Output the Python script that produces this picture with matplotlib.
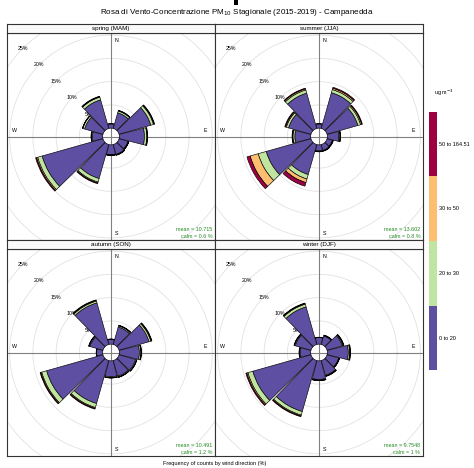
import numpy as np
import matplotlib.pyplot as plt
from matplotlib.patches import Wedge, Rectangle

plt.rcParams['font.family'] = ['Liberation Sans', 'DejaVu Sans']

# wind sectors (degrees from north) and concentration bins
directions = np.arange(0, 360, 30)
seasons = ['spring (MAM)', 'summer (JJA)', 'autumn (SON)', 'winter (DJF)']
bin_labels = ['0 to 20', '20 to 30', '30 to 50', '50 to 164.51']
colours = ['#5E4FA2', '#BFE5A0', '#FDBF6F', '#9E0142']

# frequency of counts (%) per sector, one list per concentration bin
spring_0_20 = [0.9, 3.5, 7.1, 5.4, 2.0, 2.2, 2.1, 7.6, 13.6, 2.2, 4.1, 6.4]
spring_20_30 = [0.1, 0.4, 0.6, 0.5, 0.1, 0.1, 0.1, 0.8, 1.0, 0.2, 0.4, 0.6]
spring_30_50 = [0.0, 0.1, 0.15, 0.1, 0.05, 0.05, 0.05, 0.2, 0.25, 0.05, 0.05, 0.1]
spring_50_max = [0.0, 0.05, 0.1, 0.1, 0.05, 0.05, 0.05, 0.15, 0.2, 0.05, 0.05, 0.1]

summer_0_20 = [0.9, 8.0, 6.9, 2.5, 1.2, 1.3, 1.3, 6.7, 10.0, 3.4, 5.0, 7.9]
summer_20_30 = [0.1, 0.7, 0.6, 0.2, 0.1, 0.1, 0.1, 1.0, 1.8, 0.4, 0.5, 0.7]
summer_30_50 = [0.0, 0.3, 0.25, 0.1, 0.05, 0.05, 0.05, 0.8, 1.8, 0.1, 0.2, 0.25]
summer_50_max = [0.0, 0.2, 0.15, 0.05, 0.05, 0.05, 0.05, 0.8, 0.7, 0.1, 0.15, 0.15]

autumn_0_20 = [1.0, 3.9, 6.7, 4.3, 3.7, 3.5, 3.4, 9.6, 12.6, 1.3, 2.9, 9.3]
autumn_20_30 = [0.05, 0.25, 0.4, 0.3, 0.2, 0.2, 0.2, 0.9, 1.1, 0.05, 0.2, 0.4]
autumn_30_50 = [0.02, 0.1, 0.15, 0.1, 0.05, 0.05, 0.05, 0.2, 0.2, 0.02, 0.05, 0.15]
autumn_50_max = [0.02, 0.05, 0.1, 0.05, 0.05, 0.05, 0.05, 0.15, 0.15, 0.02, 0.05, 0.1]

winter_0_20 = [1.4, 1.9, 3.4, 4.5, 2.6, 3.3, 4.0, 11.4, 13.0, 2.3, 3.5, 8.4]
winter_20_30 = [0.05, 0.1, 0.2, 0.3, 0.1, 0.15, 0.15, 0.8, 1.1, 0.1, 0.2, 0.6]
winter_30_50 = [0.02, 0.05, 0.1, 0.1, 0.05, 0.05, 0.05, 0.2, 0.25, 0.05, 0.05, 0.15]
winter_50_max = [0.02, 0.05, 0.1, 0.1, 0.05, 0.05, 0.05, 0.15, 0.2, 0.05, 0.05, 0.1]

means = ['10.715', '13.602', '10.491', '9.7548']
calms = ['0.6', '0.8', '1.2', '1']
grid_pct = [5, 10, 15, 20, 25, 30]

season_data = [
    [spring_0_20, spring_20_30, spring_30_50, spring_50_max],
    [summer_0_20, summer_20_30, summer_30_50, summer_50_max],
    [autumn_0_20, autumn_20_30, autumn_30_50, autumn_50_max],
    [winter_0_20, winter_20_30, winter_30_50, winter_50_max],
]

W, H = 474, 468
fig = plt.figure(figsize=(W / 100, H / 100), dpi=100)


def fig_rect(x, y, w, h):
    # pixel box (top-left origin) -> figure fraction
    return [x / W, 1 - (y + h) / H, w / W, h / H]


off = 1.8      # size of the central hole, in %
scale = 4.65   # pixels per %
half_w = 14.2  # half width of each sector wedge

panels = [(7, 33), (215, 33), (7, 249), (215, 249)]
pw, ph, sh = 208, 207, 9

for k, (px, py) in enumerate(panels):
    ax = fig.add_axes(fig_rect(px, py, pw, ph))
    ax.set_xlim(-pw / 2 / scale, pw / 2 / scale)
    ax.set_ylim(-ph / 2 / scale, ph / 2 / scale)
    ax.set_xticks([])
    ax.set_yticks([])
    for s in ax.spines.values():
        s.set_linewidth(0.8)
        s.set_color('#333333')

    # grid circles and axis cross
    t = np.linspace(0, 2 * np.pi, 361)
    for g in [0] + grid_pct:
        r = g + off
        ax.plot(r * np.cos(t), r * np.sin(t), color='#e2e2e2', lw=0.6, zorder=1)
    ax.axhline(0, color='#808080', lw=0.8, zorder=1)
    ax.axvline(0, color='#808080', lw=0.8, zorder=1)

    for g in grid_pct:
        r = g + off
        ax.text(-r * np.sin(np.pi / 4), r * np.cos(np.pi / 4), f'{g}%',
                fontsize=3.8, ha='center', va='center', zorder=2, clip_on=True)

    # stacked wedges, one per sector
    cum = np.zeros(len(directions))
    for b, freq in enumerate(season_data[k]):
        freq = np.asarray(freq)
        for i, d in enumerate(directions):
            if freq[i] <= 0:
                continue
            r_in = off + cum[i]
            r_out = r_in + freq[i]
            w = Wedge((0, 0), r_out, 90 - d - half_w, 90 - d + half_w,
                      width=freq[i], facecolor=colours[b], edgecolor='black',
                      lw=0.45, zorder=3)
            ax.add_patch(w)
        cum += freq

    ax.text(1.1, 20.6, 'N', fontsize=3.8, ha='center', va='center')
    ax.text(1.1, -20.8, 'S', fontsize=3.8, ha='center', va='center')
    ax.text(20.4, 1.3, 'E', fontsize=3.8, ha='center', va='center')
    ax.text(-20.8, 1.3, 'W', fontsize=3.8, ha='center', va='center')

    ax.text(21.8, -20.0, f'mean = {means[k]}', fontsize=3.9, color='forestgreen',
            ha='right', va='center')
    ax.text(21.8, -21.5, f'calm = {calms[k]} %', fontsize=3.9, color='forestgreen',
            ha='right', va='center')

    # season strip above the panel
    sax = fig.add_axes(fig_rect(px, py - sh, pw, sh))
    sax.set_xticks([])
    sax.set_yticks([])
    sax.set_facecolor('#fafafa')
    for s in sax.spines.values():
        s.set_linewidth(0.8)
        s.set_color('#333333')
    sax.text(0.5, 0.5, seasons[k], fontsize=4.5, ha='center', va='center',
             transform=sax.transAxes)

# concentration key
cax = fig.add_axes(fig_rect(429, 112, 8, 258))
cax.bar(np.zeros(len(colours)), np.ones(len(colours)), bottom=np.arange(len(colours)),
        width=1, color=colours)
cax.set_xlim(-0.5, 0.5)
cax.set_ylim(0, len(colours))
cax.axis('off')
for i, lab in enumerate(bin_labels):
    fig.text(439 / W, 1 - (338 - i * 64.5) / H, lab, fontsize=4, va='center', ha='left')
fig.text(434 / W, 1 - 93 / H, 'ug m$^{-3}$', fontsize=4, va='center', ha='left')

fig.text(237 / W, 1 - 13 / H,
         'Rosa di Vento-Concentrazione PM$_{10}$ Stagionale (2015-2019) - Campanedda',
         fontsize=5.8, ha='center', va='center')
fig.text(215 / W, 1 - 463 / H, 'Frequency of counts by wind direction (%)',
         fontsize=4.0, ha='center', va='center')
fig.patches.append(Rectangle((234 / W, 1 - 5 / H), 4 / W, 5 / H, transform=fig.transFigure,
                             facecolor='black', edgecolor='none', figure=fig))

fig.savefig('out.png', dpi=100)
